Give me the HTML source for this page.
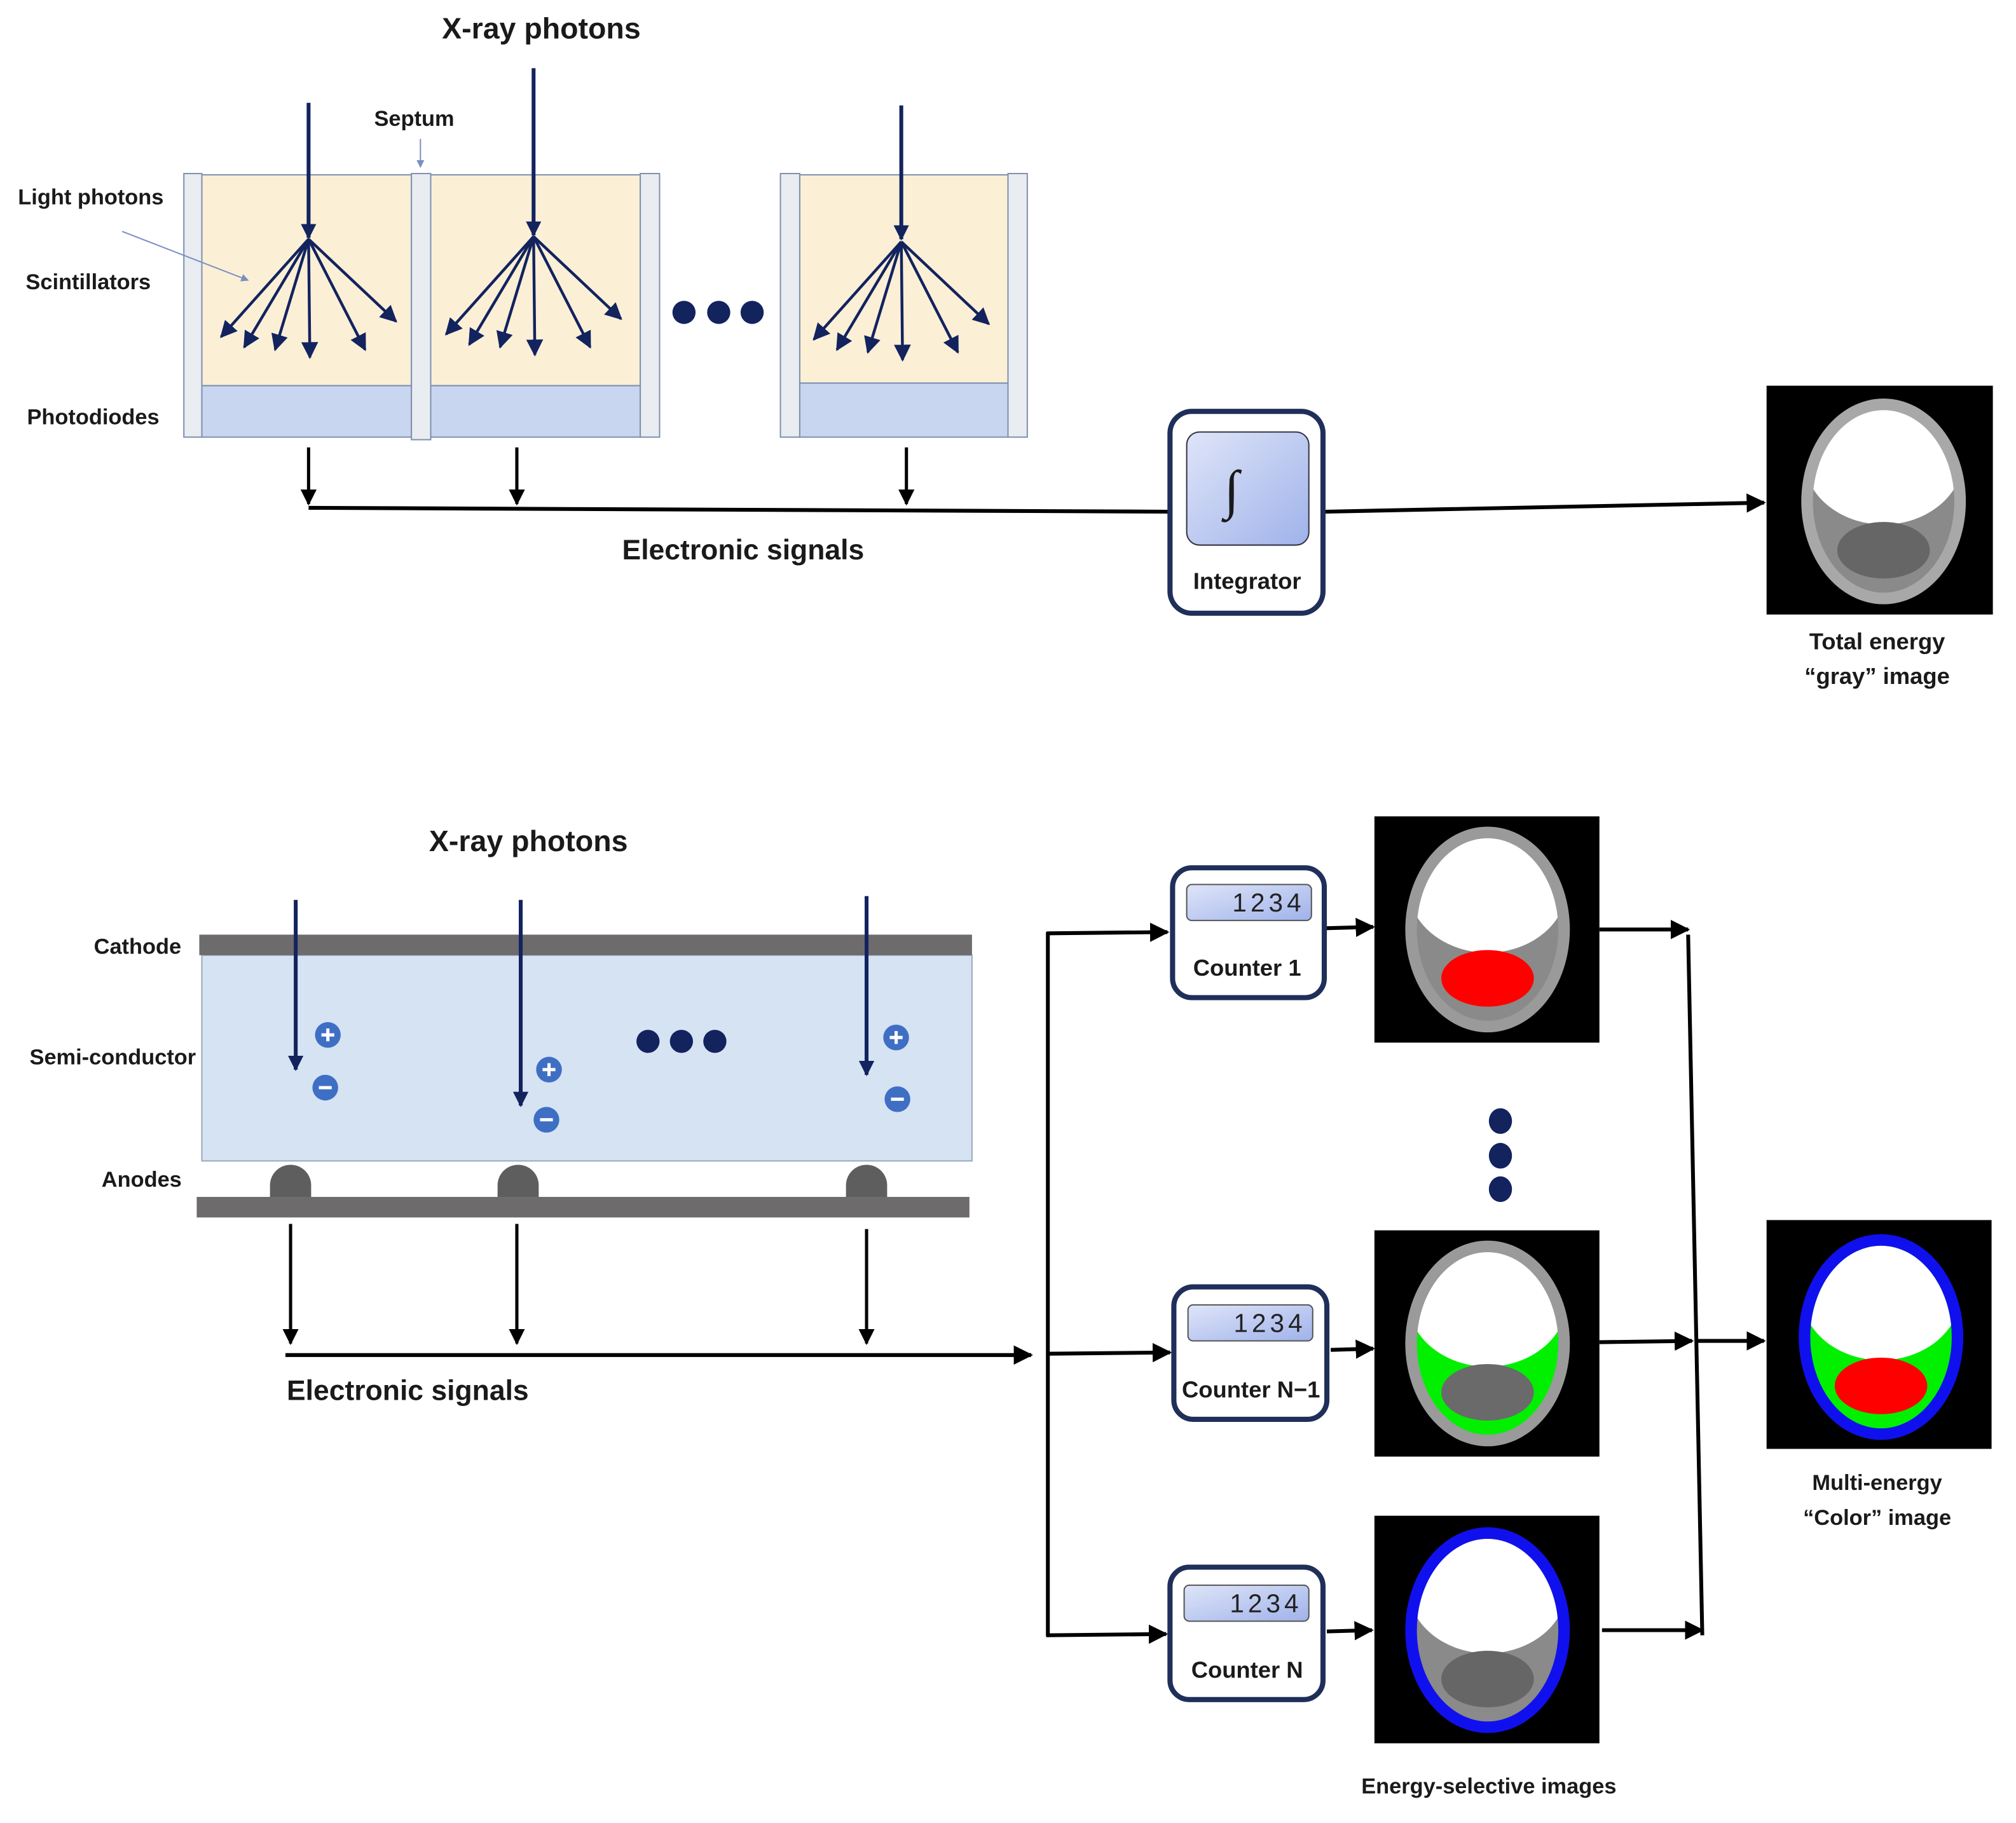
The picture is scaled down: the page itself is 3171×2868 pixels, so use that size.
<!DOCTYPE html>
<html><head><meta charset="utf-8"><style>
html,body{margin:0;padding:0;background:#fff;}
svg{display:block;}
text{font-family:"Liberation Sans",sans-serif;font-weight:bold;fill:#1a1a1a;}
</style></head><body>
<svg width="3171" height="2868" viewBox="0 0 1568 1418" preserveAspectRatio="none" xmlns="http://www.w3.org/2000/svg">
<defs>
<marker id="ab" viewBox="0 0 10 10" refX="9" refY="5" markerWidth="5" markerHeight="5" orient="auto"><path d="M0,0L10,5L0,10z" fill="#000"/></marker>
<marker id="an" viewBox="0 0 10 10" refX="9" refY="5" markerWidth="4" markerHeight="5" orient="auto"><path d="M0,0L10,5L0,10z" fill="#12235e"/></marker>
<marker id="af" viewBox="0 0 10 10" refX="9" refY="5" markerWidth="6" markerHeight="6" orient="auto"><path d="M0,0L10,5L0,10z" fill="#12235e"/></marker>
<marker id="al" viewBox="0 0 10 10" refX="9" refY="5" markerWidth="6" markerHeight="6" orient="auto"><path d="M0,0L10,5L0,10z" fill="#7a8fc0"/></marker>
<linearGradient id="gb" x1="0" y1="0" x2="1" y2="1"><stop offset="0" stop-color="#dfe5f8"/><stop offset="1" stop-color="#9fb2ea"/></linearGradient>
<clipPath id="ci"><ellipse cx="0" cy="0" rx="55" ry="71"/></clipPath>
<g id="fan" stroke="#12235e" stroke-width="2.2" fill="none">
<line x1="0" y1="0" x2="-68" y2="76" marker-end="url(#af)"/>
<line x1="0" y1="0" x2="-50" y2="84" marker-end="url(#af)"/>
<line x1="0" y1="0" x2="-26" y2="86" marker-end="url(#af)"/>
<line x1="0" y1="0" x2="1" y2="92" marker-end="url(#af)"/>
<line x1="0" y1="0" x2="44" y2="86" marker-end="url(#af)"/>
<line x1="0" y1="0" x2="68" y2="64" marker-end="url(#af)"/>
</g>
<g id="lcd"><rect x="0" y="0" width="97" height="28" rx="4" fill="url(#gb)" stroke="#555" stroke-width="1"/><text x="92" y="21" font-size="20" text-anchor="end" style="font-weight:normal;fill:#222;letter-spacing:3px">1234</text></g>
</defs>

<!-- TOP -->
<text x="421" y="30" font-size="23" text-anchor="middle">X-ray photons</text>
<text x="291" y="98" font-size="17">Septum</text>
<line x1="327" y1="108" x2="327" y2="130" stroke="#7a8fc0" stroke-width="1" marker-end="url(#al)"/>
<text x="14" y="159" font-size="17">Light photons</text>
<text x="20" y="225" font-size="17">Scintillators</text>
<text x="21" y="330" font-size="17">Photodiodes</text>

<g stroke="#8090b0" stroke-width="1">
<rect x="157" y="136" width="163" height="164" fill="#fbefd6"/>
<rect x="157" y="300" width="163" height="40" fill="#c9d6f0"/>
<rect x="335" y="136" width="163" height="164" fill="#fbefd6"/>
<rect x="335" y="300" width="163" height="40" fill="#c9d6f0"/>
<rect x="622" y="136" width="162" height="162" fill="#fbefd6"/>
<rect x="622" y="298" width="162" height="42" fill="#c9d6f0"/>
<rect x="143" y="135" width="14" height="205" fill="#e9edf1"/>
<rect x="320" y="135" width="15" height="207" fill="#e9edf1"/>
<rect x="498" y="135" width="15" height="205" fill="#e9edf1"/>
<rect x="607" y="135" width="15" height="205" fill="#e9edf1"/>
<rect x="784" y="135" width="15" height="205" fill="#e9edf1"/>
</g>
<line x1="95" y1="180" x2="193" y2="218" stroke="#7a8fc0" stroke-width="1" marker-end="url(#al)"/>
<g stroke="#12235e" stroke-width="3">
<line x1="240" y1="80" x2="240" y2="185" marker-end="url(#an)"/>
<line x1="415" y1="53" x2="415" y2="183" marker-end="url(#an)"/>
<line x1="701" y1="82" x2="701" y2="186" marker-end="url(#an)"/>
</g>
<use href="#fan" x="240" y="186"/>
<use href="#fan" x="415" y="184"/>
<use href="#fan" x="701" y="188"/>
<g fill="#12235e"><circle cx="532" cy="243" r="9"/><circle cx="559" cy="243" r="9"/><circle cx="585" cy="243" r="9"/></g>

<g stroke="#000" stroke-width="2.5" fill="none">
<line x1="240" y1="348" x2="240" y2="392" marker-end="url(#ab)"/>
<line x1="402" y1="348" x2="402" y2="392" marker-end="url(#ab)"/>
<line x1="705" y1="348" x2="705" y2="392" marker-end="url(#ab)"/>
<line x1="240" y1="395" x2="909" y2="398" stroke-width="3"/>
<line x1="1031" y1="398" x2="1372" y2="391" stroke-width="3" marker-end="url(#ab)"/>
</g>
<text x="578" y="435" font-size="22" text-anchor="middle">Electronic signals</text>

<rect x="910" y="320" width="119" height="157" rx="17" fill="#fff" stroke="#1f2f5a" stroke-width="4"/>
<rect x="923" y="336" width="95" height="88" rx="10" fill="url(#gb)" stroke="#334" stroke-width="1"/>
<text x="958" y="395" font-size="42" text-anchor="middle" style="font-family:'Liberation Serif',serif;font-weight:normal">∫</text>
<text x="970" y="458" font-size="18" text-anchor="middle">Integrator</text>

<rect x="1374" y="300" width="176" height="178" fill="#000"/>
<g transform="translate(1465,390)">
<ellipse rx="64" ry="80" fill="#a8a8a8"/><ellipse rx="55" ry="71" fill="#8a8a8a"/>
<ellipse cx="0" cy="-34" rx="62" ry="52" fill="#fff" clip-path="url(#ci)"/>
<ellipse cx="0" cy="38" rx="36" ry="22" fill="#666"/>
</g>
<text x="1460" y="505" font-size="18" text-anchor="middle">Total energy</text>
<text x="1460" y="532" font-size="18" text-anchor="middle">“gray” image</text>

<!-- BOTTOM -->
<text x="411" y="662" font-size="23" text-anchor="middle">X-ray photons</text>
<text x="73" y="742" font-size="17">Cathode</text>
<text x="23" y="828" font-size="17">Semi-conductor</text>
<text x="79" y="923" font-size="17">Anodes</text>
<rect x="157" y="743" width="599" height="160" fill="#d6e3f3" stroke="#9ab" stroke-width="1"/>
<rect x="155" y="727" width="601" height="16" fill="#6d6b6c"/>
<g fill="#5f5e5f">
<path d="M210,931V922a16,16 0 0 1 32,0V931z"/>
<path d="M387,931V922a16,16 0 0 1 32,0V931z"/>
<path d="M658,931V922a16,16 0 0 1 32,0V931z"/>
</g>
<rect x="153" y="931" width="601" height="16" fill="#6d6b6c"/>
<g stroke="#12235e" stroke-width="3">
<line x1="230" y1="700" x2="230" y2="832" marker-end="url(#an)"/>
<line x1="405" y1="700" x2="405" y2="860" marker-end="url(#an)"/>
<line x1="674" y1="697" x2="674" y2="836" marker-end="url(#an)"/>
</g>
<g fill="#3f6fc4">
<circle cx="255" cy="805" r="10"/><circle cx="253" cy="846" r="10"/>
<circle cx="427" cy="832" r="10"/><circle cx="425" cy="871" r="10"/>
<circle cx="697" cy="807" r="10"/><circle cx="698" cy="855" r="10"/>
</g>
<g stroke="#fff" stroke-width="2.5">
<path d="M250,805h10M255,800v10M248,846h10"/>
<path d="M422,832h10M427,827v10M420,871h10"/>
<path d="M692,807h10M697,802v10M693,855h10"/>
</g>
<g fill="#12235e"><circle cx="504" cy="810" r="9"/><circle cx="530" cy="810" r="9"/><circle cx="556" cy="810" r="9"/></g>

<g stroke="#000" stroke-width="2.5" fill="none">
<line x1="226" y1="952" x2="226" y2="1045" marker-end="url(#ab)"/>
<line x1="402" y1="952" x2="402" y2="1045" marker-end="url(#ab)"/>
<line x1="674" y1="956" x2="674" y2="1045" marker-end="url(#ab)"/>
<line x1="222" y1="1054" x2="802" y2="1054" stroke-width="3" marker-end="url(#ab)"/>
<line x1="815" y1="725" x2="815" y2="1273" stroke-width="3"/>
<line x1="814" y1="726" x2="908" y2="725" stroke-width="3" marker-end="url(#ab)"/>
<line x1="814" y1="1053" x2="910" y2="1052" stroke-width="3" marker-end="url(#ab)"/>
<line x1="814" y1="1272" x2="907" y2="1271" stroke-width="3" marker-end="url(#ab)"/>
<line x1="1031" y1="722" x2="1068" y2="721" stroke-width="3" marker-end="url(#ab)"/>
<line x1="1035" y1="1050" x2="1068" y2="1049" stroke-width="3" marker-end="url(#ab)"/>
<line x1="1032" y1="1269" x2="1067" y2="1268" stroke-width="3" marker-end="url(#ab)"/>
<line x1="1244" y1="723" x2="1313" y2="723" stroke-width="3" marker-end="url(#ab)"/>
<line x1="1244" y1="1044" x2="1316" y2="1043" stroke-width="3" marker-end="url(#ab)"/>
<line x1="1246" y1="1268" x2="1324" y2="1268" stroke-width="3" marker-end="url(#ab)"/>
<line x1="1313" y1="727" x2="1324" y2="1272" stroke-width="3"/>
<line x1="1320" y1="1043" x2="1372" y2="1043" stroke-width="3" marker-end="url(#ab)"/>
</g>
<text x="223" y="1089" font-size="22">Electronic signals</text>

<rect x="912" y="675" width="118" height="101" rx="15" fill="#fff" stroke="#1f2f5a" stroke-width="4"/>
<use href="#lcd" x="923" y="688"/>
<text x="970" y="759" font-size="18" text-anchor="middle">Counter 1</text>
<rect x="913" y="1001" width="119" height="103" rx="15" fill="#fff" stroke="#1f2f5a" stroke-width="4"/>
<use href="#lcd" x="924" y="1015"/>
<text x="973" y="1087" font-size="18" text-anchor="middle">Counter N−1</text>
<rect x="910" y="1219" width="119" height="103" rx="15" fill="#fff" stroke="#1f2f5a" stroke-width="4"/>
<use href="#lcd" x="921" y="1233"/>
<text x="970" y="1305" font-size="18" text-anchor="middle">Counter N</text>

<rect x="1069" y="635" width="175" height="176" fill="#000"/>
<g transform="translate(1157,723)">
<ellipse rx="64" ry="80" fill="#9a9a9a"/><ellipse rx="55" ry="71" fill="#8a8a8a"/>
<ellipse cx="0" cy="-34" rx="62" ry="52" fill="#fff" clip-path="url(#ci)"/>
<ellipse cx="0" cy="38" rx="36" ry="22" fill="#f00"/>
</g>
<g fill="#12235e"><ellipse cx="1167" cy="872" rx="9" ry="10"/><ellipse cx="1167" cy="899" rx="9" ry="10"/><ellipse cx="1167" cy="925" rx="9" ry="10"/></g>
<rect x="1069" y="957" width="175" height="176" fill="#000"/>
<g transform="translate(1157,1045)">
<ellipse rx="64" ry="80" fill="#9a9a9a"/><ellipse rx="55" ry="71" fill="#00f000"/>
<ellipse cx="0" cy="-34" rx="62" ry="52" fill="#fff" clip-path="url(#ci)"/>
<ellipse cx="0" cy="38" rx="36" ry="22" fill="#6a6a6a"/>
</g>
<rect x="1069" y="1179" width="175" height="177" fill="#000"/>
<g transform="translate(1157,1268)">
<ellipse rx="64" ry="80" fill="#1010ee"/><ellipse rx="55" ry="71" fill="#8a8a8a"/>
<ellipse cx="0" cy="-34" rx="62" ry="52" fill="#fff" clip-path="url(#ci)"/>
<ellipse cx="0" cy="38" rx="36" ry="22" fill="#666"/>
</g>
<rect x="1374" y="949" width="175" height="178" fill="#000"/>
<g transform="translate(1463,1040)">
<ellipse rx="64" ry="80" fill="#1010ee"/><ellipse rx="55" ry="71" fill="#00f000"/>
<ellipse cx="0" cy="-34" rx="62" ry="52" fill="#fff" clip-path="url(#ci)"/>
<ellipse cx="0" cy="38" rx="36" ry="22" fill="#f00"/>
</g>
<text x="1460" y="1159" font-size="17" text-anchor="middle">Multi-energy</text>
<text x="1460" y="1186" font-size="17" text-anchor="middle">“Color” image</text>
<text x="1158" y="1395" font-size="17" text-anchor="middle">Energy-selective images</text>
</svg>
</body></html>
